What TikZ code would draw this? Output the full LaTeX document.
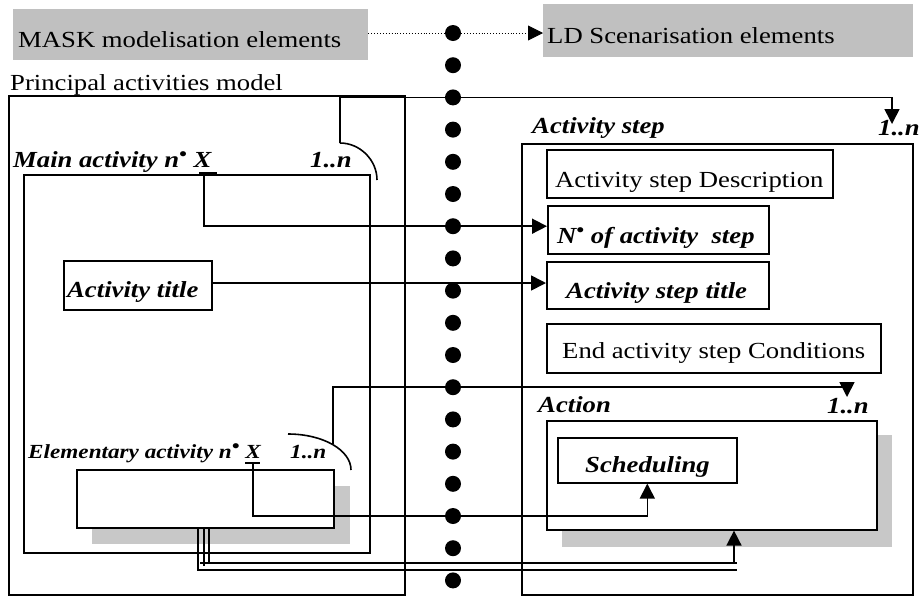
\documentclass[tikz,border=0pt]{standalone}
\usepackage{fontspec}
\setmainfont{Liberation Serif}[FakeStretch=1.16]
\usetikzlibrary{arrows.meta}
\definecolor{hdrgray}{RGB}{192,192,192}
\definecolor{shadowgray}{RGB}{200,200,200}
\newcommand{\nbul}{\raisebox{0.28em}{\fontsize{19}{19}\selectfont\textbullet}}
\tikzset{
  box/.style={draw, line width=1.6pt, inner sep=0pt, anchor=north west},
  hdr/.style={fill=hdrgray, inner sep=0pt, anchor=north west},
  shade/.style={fill=shadowgray, inner sep=0pt, anchor=north west},
  lbl/.style={anchor=base west, inner sep=0pt, font=\fontsize{23}{27}\selectfont},
  bil/.style={anchor=base west, inner sep=0pt, font=\fontsize{23}{27}\selectfont\bfseries\itshape},
  bils/.style={anchor=base west, inner sep=0pt, font=\fontsize{20}{24}\selectfont\bfseries\itshape},
  conn/.style={line width=1.6pt},
  tip/.style={-{Triangle[length=15pt,width=15pt]}},
  dot/.style={circle, fill=black, inner sep=0pt, minimum size=16pt},
  uline/.style={line width=2.4pt},
}
\begin{document}
\begin{tikzpicture}[x=1pt,y=-1pt]
\useasboundingbox (0,0) rectangle (920,598);
% header boxes
\node[hdr, minimum width=355pt, minimum height=51pt] (hL) at (13,9) {};
\node[hdr, minimum width=370pt, minimum height=53pt] (hR) at (543,4) {};
\node[lbl] (tL) at (18,47) {MASK modelisation elements};
\node[lbl] (tR) at (547,43) {LD Scenarisation elements};
% dots
\foreach \k in {0,...,17} {
  \node[dot] (d\k) at (453,{33+32.2*\k}) {};
}
\draw[line width=0.9pt, dotted] (hL.east |- 0,33) -- (d0.west);
\draw[line width=0.9pt, dotted, tip] (d0.east) -- (hR.west |- 0,33);
% left side
\node[lbl] (tPAM) at (10,90) {Principal activities model};
\node[box, minimum width=396pt, minimum height=499pt] (outerL) at (8,95) {};
\node[box, minimum width=346pt, minimum height=378pt] (mainAct) at (23,174) {};
\node[bil] (tMain) at (13,167) {Main activity n\nbul\ X};
\node[bil] (nMain) at (310,167) {1..n};
\node[box, minimum width=148pt, minimum height=49pt] (actTitle) at (63,260) {};
\node[bil] (tActTitle) at (67,297) {Activity title};
\node[shade, minimum width=258pt, minimum height=58pt] (elemSh) at (92,486) {};
\node[box, fill=white, minimum width=257pt, minimum height=58pt] (elem) at (76,469) {};
\node[bils] (tElem) at (28,458) {Elementary activity n\nbul\ X};
\node[bils] (nElem) at (290,458) {1..n};
% right side
\node[box, minimum width=391pt, minimum height=451pt] (outerR) at (521,143) {};
\node[bil] (tStep) at (532,133) {Activity step};
\node[box, minimum width=286pt, minimum height=48pt] (desc) at (546,149) {};
\node[lbl] (tDesc) at (555,187) {Activity step Description};
\node[box, minimum width=221pt, minimum height=48pt] (numStep) at (547,205) {};
\node[bil] (tNum) at (557,243) {N\nbul\ of activity \ step};
\node[box, minimum width=222pt, minimum height=47pt] (stepTitle) at (546,261) {};
\node[bil] (tStepTitle) at (566,298) {Activity step title};
\node[box, minimum width=334pt, minimum height=49pt] (endCond) at (546,323) {};
\node[lbl] (tEnd) at (562,358) {End activity step Conditions};
\node[shade, minimum width=330pt, minimum height=112pt] (actSh) at (562,435) {};
\node[box, fill=white, minimum width=330pt, minimum height=109pt] (action) at (546,420) {};
\node[bil] (tAction) at (538,412) {Action};
\node[bil] (nAction) at (827,413) {1..n};
\node[box, minimum width=179pt, minimum height=45pt] (sched) at (557,437) {};
\node[bil] (tSched) at (585,472) {Scheduling};
\node[bil] (nStep) at (878,135) {1..n};
% underlines of X
\coordinate (xMain) at (204,173);
\coordinate (xElem) at (253,463);
\draw[uline] (199,173) -- (217,173);
\draw[uline] (245,463) -- (260,463);
% cardinality arcs
\coordinate (arcMain) at (340,143);
\coordinate (arcElem) at (333,444);
\draw[conn] (arcMain) .. controls (360,143) and (377,160) .. (377,180);
\draw[conn] (288,434) .. controls (323,434) and (351,450) .. (351,470);
% connectors
\draw[conn, tip] (arcMain) |- (d2) -| (892,124);
\draw[conn, tip] (xMain) |- (d6) -- (numStep.west |- d6);
\draw[conn, tip] (actTitle.east |- 0,283) -- (stepTitle.west |- 0,283);
\draw[conn, tip] (arcElem) |- (d11) -| (847,397);
\draw[conn, tip] (xElem) |- (d15) -| (sched.south);
% double link to action
\draw[line width=1.4pt] (elem.south -| 198,0) -- (198,570) -- (737,570);
\draw[line width=2.4pt] (elem.south -| 204,0) -- (204,566);
\draw[line width=1.4pt] (elem.south -| 209,0) -- (209,563) -- (737,563);
\draw[line width=1.4pt] (200,563) -- (209,563);
\draw[conn, tip] (734,563) -- (action.south -| 734,0);
\end{tikzpicture}
\end{document}
